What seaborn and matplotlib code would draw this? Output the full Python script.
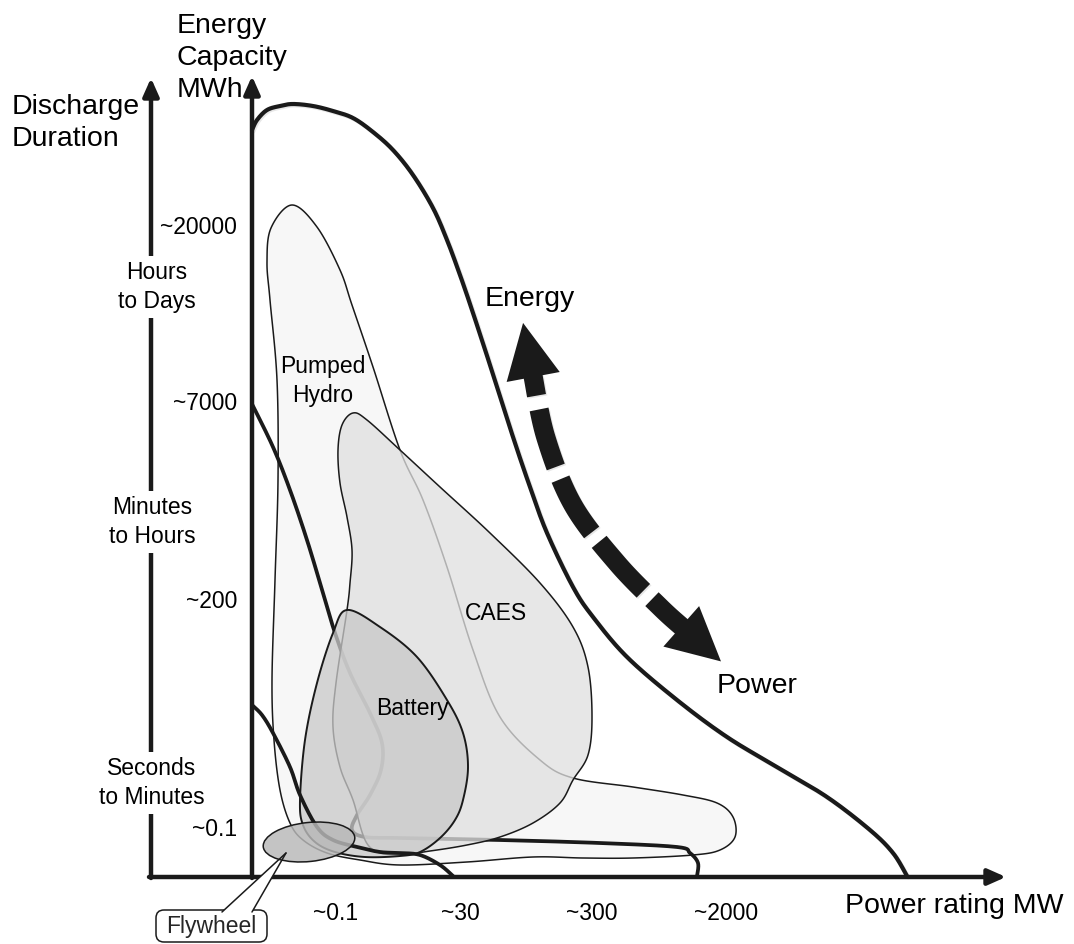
import numpy as np
import matplotlib
matplotlib.use("Agg")
import matplotlib.pyplot as plt
import matplotlib.patheffects as pe
from matplotlib.patches import Ellipse, FancyBboxPatch, Polygon
import seaborn as sns

# outlines, in pixels (x to the right, y down)
envelope_x = [252, 257, 267, 280, 293, 313, 333, 353, 373, 393, 413, 433, 447, 460, 472, 490, 513, 530, 547, 573, 593, 627, 677, 727, 777, 827, 870, 893, 907]
envelope_y = [130, 120, 110, 106, 104, 106, 111, 118, 132, 150, 175, 208, 240, 275, 310, 365, 437, 487, 533, 587, 617, 657, 700, 737, 767, 797, 830, 853, 876]

hydro_x = [292, 317, 340, 352, 373, 400, 423, 447, 473, 500, 540, 573, 633, 683, 717, 733, 735, 720, 693, 633, 583, 533, 467, 400, 360, 327, 303, 290, 280, 274, 272, 275, 278, 277, 270, 267, 271]
hydro_y = [205, 227, 270, 305, 367, 450, 500, 567, 650, 717, 760, 778, 787, 795, 803, 817, 837, 850, 855, 858, 858, 857, 862, 865, 860, 853, 840, 823, 790, 740, 680, 580, 480, 380, 300, 262, 228]

caes_x = [353, 367, 400, 440, 490, 540, 573, 588, 592, 588, 573, 560, 533, 500, 467, 430, 395, 368, 353, 340, 333, 336, 347, 350, 352, 347, 340, 338, 342]
caes_y = [413, 420, 450, 487, 533, 583, 627, 667, 717, 755, 780, 803, 823, 837, 845, 851, 855, 845, 800, 767, 727, 683, 610, 583, 550, 517, 483, 450, 425]

battery_x = [347, 380, 417, 447, 463, 468, 463, 455, 440, 420, 400, 365, 335, 315, 303, 300, 305, 317, 333]
battery_y = [610, 627, 657, 700, 733, 767, 800, 820, 838, 852, 856, 857, 852, 842, 825, 800, 740, 683, 633]

curve_a_x = [252, 273, 290, 307, 323, 335, 350, 370, 382, 381, 370, 357, 352, 365, 400, 500, 600, 677, 690, 698, 697]
curve_a_y = [404, 447, 490, 540, 593, 633, 673, 713, 743, 770, 795, 815, 830, 837, 838, 840, 843, 847, 853, 863, 876]

curve_b_x = [252, 262, 273, 290, 300, 317, 333, 357, 380, 400, 420, 440, 453]
curve_b_y = [705, 715, 733, 767, 795, 827, 840, 847, 852, 853, 855, 865, 876]

arrow_x = [533, 546, 573, 617, 660, 682]
arrow_y = [376, 438, 505, 563, 607, 627]
arrow_dashes = [20, 14, 60, 13, 62, 12, 66, 12, 400]

flywheel_xy = (309, 842)

energy_ticks = ["~20000", "~7000", "~200", "~0.1"]
energy_tick_y = [227, 404, 602, 830]
power_ticks = ["~0.1", "~30", "~300", "~2000"]
power_tick_x = [336, 460, 592, 726]
duration_labels = ["Hours\nto Days", "Minutes\nto Hours", "Seconds\nto Minutes"]
duration_y = [287, 522, 783]
duration_x = [157, 152, 152]


def smooth(xs, ys, closed=False, n=24):
    # catmull-rom through the read-off points
    P = np.column_stack([xs, ys]).astype(float)
    if closed:
        P = np.vstack([P[-1], P, P[0], P[1]])
    else:
        P = np.vstack([P[0], P, P[-1]])
    t = np.linspace(0, 1, n, endpoint=False)[:, None]
    out = []
    for i in range(1, len(P) - 2):
        p0, p1, p2, p3 = P[i - 1], P[i], P[i + 1], P[i + 2]
        out.append(0.5 * (2 * p1 + (-p0 + p2) * t + (2 * p0 - 5 * p1 + 4 * p2 - p3) * t ** 2
                          + (-p0 + 3 * p1 - 3 * p2 + p3) * t ** 3))
    out.append(P[-2][None])
    return np.vstack(out)


def piece(path, a, b):
    s = np.concatenate([[0], np.cumsum(np.hypot(*np.diff(path, axis=0).T))])
    b = min(b, s[-1])
    keep = (s > a) & (s < b)
    pa = np.array([np.interp(a, s, path[:, 0]), np.interp(a, s, path[:, 1])])
    pb = np.array([np.interp(b, s, path[:, 0]), np.interp(b, s, path[:, 1])])
    return np.vstack([pa, path[keep], pb])


sns.set_theme(style="white")
plt.rcParams["font.family"] = ["Liberation Sans", "DejaVu Sans"]

fig = plt.figure(figsize=(10.74, 9.44), dpi=100)
ax = fig.add_axes([0, 0, 1, 1])
ax.set_xlim(0, 1074)
ax.set_ylim(944, 0)
ax.axis("off")

shadow = [pe.SimpleLineShadow(offset=(1.0, -1.0), shadow_color="k", alpha=0.1), pe.Normal()]

# axes with arrow heads
ax_kw = dict(arrowstyle="-|>,head_length=0.9,head_width=0.4", color="k", lw=3.2,
             mutation_scale=12, shrinkA=0, shrinkB=0)
ax.annotate("", xy=(151, 78), xytext=(151, 878), arrowprops=ax_kw, zorder=2)
ax.annotate("", xy=(252, 76), xytext=(252, 878), arrowprops=ax_kw, zorder=2)
ax.annotate("", xy=(1006, 877), xytext=(149, 877), arrowprops=ax_kw, zorder=2)

# technology regions
h = smooth(hydro_x, hydro_y, closed=True)
ax.fill(h[:, 0], h[:, 1], facecolor="#f7f7f7", edgecolor="k", lw=1.1, zorder=3)

a = smooth(curve_a_x, curve_a_y)
sns.lineplot(x=a[:, 0], y=a[:, 1], sort=False, estimator=None, color="k", lw=2.7, ax=ax, zorder=4)

c = smooth(caes_x, caes_y, closed=True)
ax.fill(c[:, 0], c[:, 1], facecolor=(0.88, 0.88, 0.88, 0.76), edgecolor="k", lw=1.1, zorder=5)

b = smooth(battery_x, battery_y, closed=True)
ax.fill(b[:, 0], b[:, 1], facecolor=(0.79, 0.79, 0.79, 0.76), edgecolor="k", lw=1.4, zorder=6)

bb = smooth(curve_b_x, curve_b_y)
sns.lineplot(x=bb[:, 0], y=bb[:, 1], sort=False, estimator=None, color="k", lw=2.7, ax=ax, zorder=7)

env = smooth(envelope_x, envelope_y)
sns.lineplot(x=env[:, 0], y=env[:, 1], sort=False, estimator=None, color="k", lw=3.0, ax=ax,
             zorder=4, path_effects=shadow)

# flywheel blob and its callout
ax.add_patch(FancyBboxPatch((156, 910), 111, 32, boxstyle="round,pad=0,rounding_size=8",
                            facecolor="white", edgecolor="k", lw=1.1, zorder=8))
tail_x = [222, 286, 252]
tail_y = [912, 853, 912]
ax.add_patch(Polygon(np.column_stack([tail_x, tail_y]), closed=True, facecolor="white",
                     edgecolor="none", zorder=9))
ax.add_patch(Ellipse(flywheel_xy, 92, 39, angle=-6, facecolor=(0.72, 0.72, 0.72, 0.83),
                     edgecolor="k", lw=1.1, zorder=10))
ax.plot(tail_x[:2], tail_y[:2], color="k", lw=1.1, zorder=11)
ax.plot(tail_x[1:], tail_y[1:], color="k", lw=1.1, zorder=11)
ax.text(211, 927, "Flywheel", ha="center", va="center", fontsize=16.5, zorder=12)

# energy <-> power dashed double arrow
path = smooth(arrow_x, arrow_y)
edges = np.cumsum([0] + arrow_dashes)
for i in range(0, len(arrow_dashes), 2):
    seg = piece(path, edges[i], edges[i + 1])
    ax.plot(seg[:, 0], seg[:, 1], color="k", lw=13.8, solid_capstyle="butt", zorder=9,
            path_effects=shadow)
for end, nxt, hl, hw in [(path[0], path[4], 54, 54), (path[-1], path[-5], 52, 54)]:
    u = (end - nxt) / np.hypot(*(end - nxt))
    nrm = np.array([-u[1], u[0]])
    base = end - u * 1
    head = [end + u * hl, base + nrm * hw / 2, base - nrm * hw / 2]
    ax.add_patch(Polygon(head, closed=True, facecolor="k", edgecolor="none", zorder=9))

# labels
txt = dict(zorder=12, color="black")
ax.text(12, 123, "Discharge\nDuration", ha="left", va="center", fontsize=20.5, linespacing=1.34, **txt)
ax.text(177, 58, "Energy\nCapacity\nMWh", ha="left", va="center", fontsize=20.5, linespacing=1.3, **txt)
for lab, x, y in zip(duration_labels, duration_x, duration_y):
    ax.text(x, y, lab, ha="center", va="center", fontsize=16.5, linespacing=1.28,
            bbox=dict(facecolor="white", edgecolor="none", pad=4), **txt)
for lab, y in zip(energy_ticks, energy_tick_y):
    ax.text(237, y, lab, ha="right", va="center", fontsize=16.5, **txt)
for lab, x in zip(power_ticks, power_tick_x):
    ax.text(x, 913, lab, ha="center", va="center", fontsize=16.5, **txt)
ax.text(845, 906, "Power rating MW", ha="left", va="center", fontsize=20.5, **txt)
ax.text(530, 299, "Energy", ha="center", va="center", fontsize=20.5, **txt)
ax.text(757, 686, "Power", ha="center", va="center", fontsize=20.5, **txt)
ax.text(323, 381, "Pumped\nHydro", ha="center", va="center", fontsize=16.5, linespacing=1.3, **txt)
ax.text(496, 613, "CAES", ha="center", va="center", fontsize=16.5, **txt)
ax.text(412, 708, "Battery", ha="center", va="center", fontsize=16.5, **txt)

fig.savefig("out.png", dpi=100)
